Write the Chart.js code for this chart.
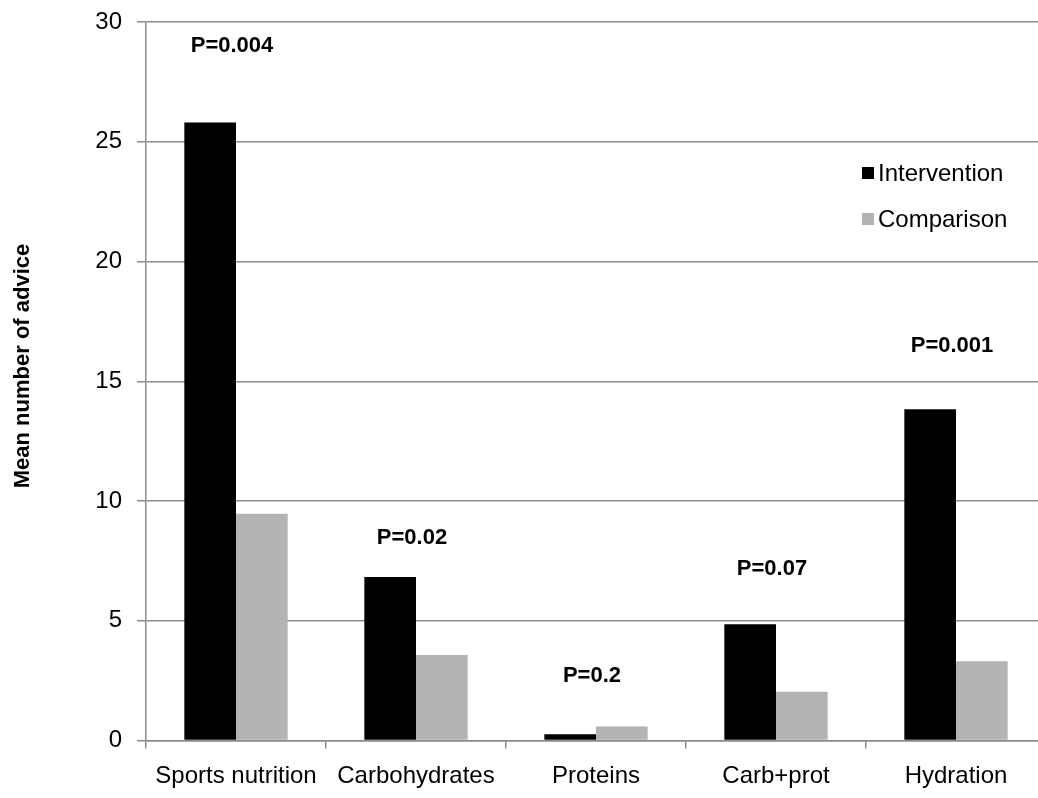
<!DOCTYPE html>
<html>
<head>
<meta charset="utf-8">
<script src="https://cdn.jsdelivr.net/npm/chart.js@4.4.0/dist/chart.umd.min.js"></script>
<style>
  html, body { margin: 0; padding: 0; background: #fff; overflow: hidden; }
  #wrap { position: relative; width: 1050px; height: 798px; }
</style>
</head>
<body>
<div id="wrap"><canvas id="c" width="1050" height="798"></canvas></div>
<script>
const categories = ['Sports nutrition', 'Carbohydrates', 'Proteins', 'Carb+prot', 'Hydration'];
const intervention = [25.8, 6.83, 0.26, 4.85, 13.83];
const comparison = [9.47, 3.57, 0.58, 2.04, 3.31];
const pLabels = ['P=0.004', 'P=0.02', 'P=0.2', 'P=0.07', 'P=0.001'];
const pLabelLevel = [29.0, 8.45, 2.69, 7.16, 16.47];
const yTicks = [0, 5, 10, 15, 20, 25, 30];
const yTitle = 'Mean number of advice';

const FONT = '"Liberation Sans", Arial, sans-serif';
const GRID = '#8c8c8c';

const overlay = {
  id: 'overlay',
  afterDatasetsDraw(chart) {
    const ctx = chart.ctx;
    const xs = chart.scales.x, ys = chart.scales.y;
    ctx.save();
    ctx.fillStyle = '#000';
    ctx.font = 'bold 22px ' + FONT;
    ctx.textAlign = 'center';
    ctx.textBaseline = 'middle';
    pLabels.forEach((t, i) => {
      ctx.fillText(t, xs.getPixelForValue(i) - 4, ys.getPixelForValue(pLabelLevel[i]));
    });
    ctx.font = '24px ' + FONT;
    ctx.textAlign = 'left';
    chart.data.datasets.forEach((ds, i) => {
      const cy = 173 + i * 46;
      ctx.fillStyle = ds.backgroundColor;
      ctx.fillRect(862, cy - 6, 12, 12);
      ctx.fillStyle = '#000';
      ctx.fillText(ds.label, 878, cy + 1);
    });
    ctx.translate(23, 366);
    ctx.rotate(-Math.PI / 2);
    ctx.font = 'bold 22px ' + FONT;
    ctx.textAlign = 'center';
    ctx.fillText(yTitle, 0, 0);
    ctx.restore();
  }
};

new Chart(document.getElementById('c'), {
  type: 'bar',
  data: {
    labels: categories,
    datasets: [
      { label: 'Intervention', data: intervention, backgroundColor: '#000000', borderWidth: 0 },
      { label: 'Comparison', data: comparison, backgroundColor: '#b3b3b3', borderWidth: 0 }
    ]
  },
  options: {
    responsive: false,
    animation: false,
    devicePixelRatio: 1,
    layout: { padding: { top: 22, right: 4, left: 0, bottom: 0 } },
    plugins: { legend: { display: false }, tooltip: { enabled: false } },
    datasets: { bar: { categoryPercentage: 0.574, barPercentage: 1 } },
    scales: {
      x: {
        grid: { display: true, drawOnChartArea: false, drawTicks: true, tickLength: 8, color: GRID, lineWidth: 1.5, offset: true },
        border: { display: true, color: GRID, width: 1.5 },
        ticks: { color: '#000', font: { family: FONT, size: 24 }, padding: 13, maxRotation: 0, autoSkip: false },
        afterFit(s) { s.height = 798 - 740.5; s.paddingLeft = 0; s.paddingRight = 0; }
      },
      y: {
        min: 0, max: 30,
        afterBuildTicks(s) { s.ticks = yTicks.map(v => ({ value: v })); },
        grid: { color: GRID, lineWidth: 1.5, tickLength: 9, drawTicks: true },
        border: { display: true, color: GRID, width: 1.5 },
        ticks: { color: '#000', font: { family: FONT, size: 24 }, padding: 15 },
        afterFit(s) { s.width = 146; s.paddingTop = 0; s.paddingBottom = 0; }
      }
    }
  },
  plugins: [overlay]
});
</script>
</body>
</html>
